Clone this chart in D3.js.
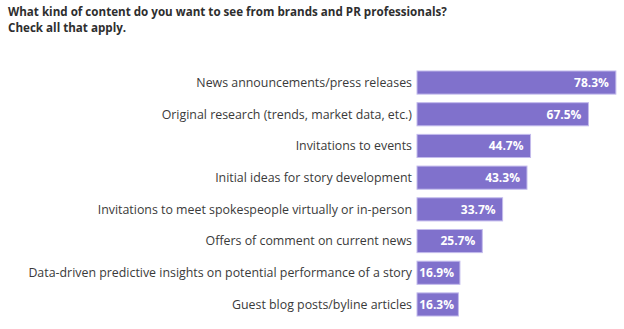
<!DOCTYPE html>
<html>
<head>
<meta charset="utf-8">
<script src="https://cdn.jsdelivr.net/npm/d3@7/dist/d3.min.js"></script>
<style>
  html, body { margin: 0; padding: 0; background: #ffffff; }
  svg { display: block; }
</style>
</head>
<body>
<svg id="chart" width="624" height="329"></svg>
<script>
// Survey responses, share of respondents (%)
const categories = [
  "News announcements/press releases",
  "Original research (trends, market data, etc.)",
  "Invitations to events",
  "Initial ideas for story development",
  "Invitations to meet spokespeople virtually or in-person",
  "Offers of comment on current news",
  "Data-driven predictive insights on potential performance of a story",
  "Guest blog posts/byline articles"
];
const values = [78.3, 67.5, 44.7, 43.3, 33.7, 25.7, 16.9, 16.3];
const titleLines = [
  "What kind of content do you want to see from brands and PR professionals?",
  "Check all that apply."
];

const svg = d3.select("#chart");
const font = "'Open Sans', sans-serif";

const margin = { left: 417, top: 66.7 };
const x = d3.scaleLinear().domain([0, 100]).range([margin.left, margin.left + 254]);
const y = d3.scaleBand().domain(categories).range([margin.top, margin.top + 8 * 31.7]).paddingInner(0.27).paddingOuter(0.135);

const title = svg.append("g").selectAll("text").data(titleLines).join("text")
  .attr("x", 8).attr("y", (d, i) => 16 + i * 16)
  .attr("font-family", font).attr("font-weight", "bold").attr("font-size", 13)
  .attr("fill", "#2e2e2e").text(d => d);

// size the heading so its first line spans the intended width
const titleW = title.nodes()[0].getComputedTextLength();
title.attr("font-size", 13 * 439 / titleW);

const rows = svg.append("g").selectAll("g").data(categories).join("g");

rows.append("rect")
  .attr("x", x(0)).attr("y", d => y(d))
  .attr("width", (d, i) => x(values[i]) - x(0))
  .attr("height", y.bandwidth())
  .attr("fill", "#8071cc").attr("stroke", "#c3bbec").attr("stroke-width", 1);

const labels = rows.append("text")
  .attr("x", x(0) - 5).attr("y", d => y(d) + y.bandwidth() / 2)
  .attr("dy", "0.35em").attr("text-anchor", "end")
  .attr("font-family", font).attr("font-size", 11)
  .attr("fill", "#3a3a3a").text(d => d);

// the longest category label runs to the left edge at x≈28
const longest = d3.max(labels.nodes(), n => n.getComputedTextLength());
labels.attr("font-size", 11 * 384 / longest);

rows.append("text")
  .attr("x", (d, i) => Math.max(x(values[i]) - 7, x(0) + 37))
  .attr("y", d => y(d) + y.bandwidth() / 2)
  .attr("dy", "0.36em").attr("text-anchor", "end")
  .attr("font-family", font).attr("font-weight", "bold").attr("font-size", 12)
  .attr("fill", "#ffffff").text((d, i) => d3.format(".1f")(values[i]) + "%");
</script>
</body>
</html>
